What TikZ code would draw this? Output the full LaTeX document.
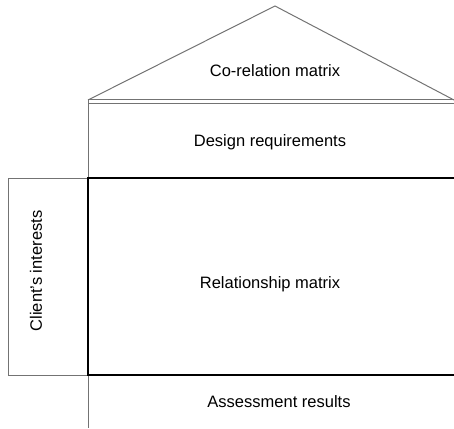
\documentclass[tikz,border=0pt]{standalone}
\usepackage{fontspec}
\setmainfont{Liberation Sans}
\begin{document}
\begin{tikzpicture}[x=1pt,y=-1pt,
  thin gray/.style={draw=black!55,line width=1pt},
  thick black/.style={draw=black,line width=1.3pt},
  lbl/.style={font=\fontsize{16.5}{19}\selectfont,inner sep=0pt}]
\useasboundingbox (0,0) rectangle (454,428);
% roof
\draw[thin gray,line join=miter] (88,100) -- (275,6) -- (454,100);
\draw[thin gray] (88,99.5) -- (454,99.5);
\draw[thin gray] (88,103) -- (454,103);
% left spine
\draw[thin gray] (88,99.5) -- (88,428);
% client's interests box
\draw[thin gray] (88,178) -- (8,178) -- (8,375) -- (88,375);
% relationship matrix
\draw[thick black] (454,178) -- (88,178) -- (88,375) -- (454,375);
% labels
\node[lbl] (corel) at (275,71) {Co-relation matrix};
\node[lbl] (design) at (270,142) {Design requirements};
\node[lbl] (relm) at (270,284) {Relationship matrix};
\node[lbl] (assess) at (279,402) {Assessment results};
\node[lbl,rotate=90] (client) at (36,271) {Client's interests};
\end{tikzpicture}
\end{document}
